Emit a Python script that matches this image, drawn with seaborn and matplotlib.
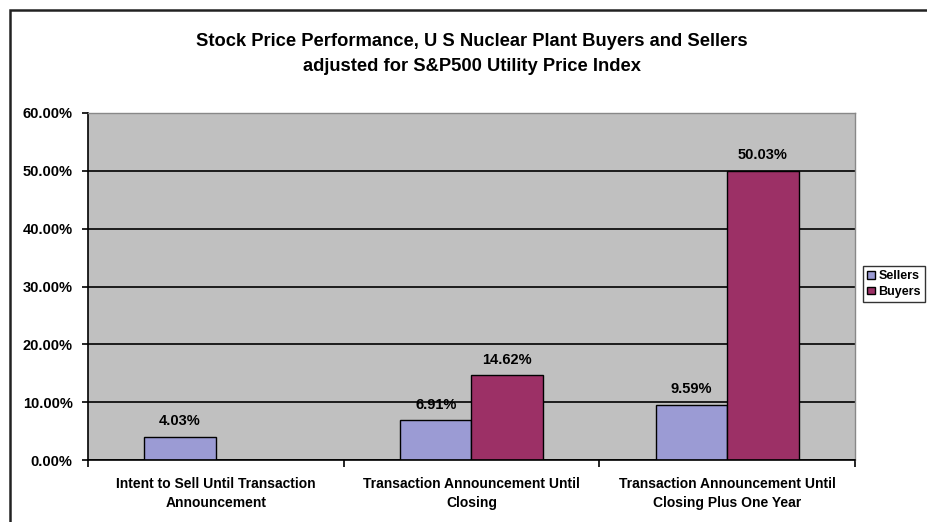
import matplotlib
matplotlib.use("Agg")
import matplotlib.pyplot as plt
import seaborn as sns
import pandas as pd
import numpy as np
from matplotlib.patches import Rectangle
from matplotlib.ticker import FixedLocator, PercentFormatter

categories = [
    "Intent to Sell Until Transaction\nAnnouncement",
    "Transaction Announcement Until\nClosing",
    "Transaction Announcement Until\nClosing Plus One Year",
]
sellers = [4.03, 6.91, 9.59]
buyers = [np.nan, 14.62, 50.03]
series_names = ["Sellers", "Buyers"]
yticks = [0, 10, 20, 30, 40, 50, 60]
title = "Stock Price Performance, U S Nuclear Plant Buyers and Sellers\nadjusted for S&P500 Utility Price Index"

df = pd.DataFrame({
    "category": categories * 2,
    "series": [series_names[0]] * 3 + [series_names[1]] * 3,
    "value": sellers + buyers,
})

sns.set_theme(style="white")
plt.rcParams["font.family"] = ["Liberation Sans", "DejaVu Sans"]
plt.rcParams["text.color"] = "black"
plt.rcParams["xtick.color"] = "black"
plt.rcParams["ytick.color"] = "black"
plt.rcParams["xtick.labelcolor"] = "black"
plt.rcParams["ytick.labelcolor"] = "black"

fig = plt.figure(figsize=(9.28, 5.22), dpi=100)
fig.patches.append(Rectangle((10 / 928, -0.1), 1.0, 1 - 10 / 522 + 0.1,
                             transform=fig.transFigure, fill=False,
                             edgecolor="#222222", linewidth=1.8))
ax = fig.add_axes([88 / 928, 1 - 460 / 522, (855 - 88) / 928, (460 - 113) / 522])
ax.set_facecolor("#c0c0c0")

sns.barplot(data=df, x="category", y="value", hue="series", order=categories,
            hue_order=series_names, palette=["#9b9bd4", "#9c3066"],
            saturation=1, width=0.56, edgecolor="black", linewidth=1.0,
            ax=ax, legend=True)

ax.set_ylim(0, 60)
ax.set_xlim(-0.5, 2.5)
ax.yaxis.set_major_locator(FixedLocator(yticks))
ax.yaxis.set_major_formatter(PercentFormatter(decimals=2))
ax.grid(axis="y", color="black", linewidth=1.2)
ax.set_axisbelow(True)
for s in ["left", "bottom"]:
    ax.spines[s].set_color("black")
    ax.spines[s].set_linewidth(1.2)
for s in ["top", "right"]:
    ax.spines[s].set_color("#888888")
    ax.spines[s].set_linewidth(1.0)
ax.set_xlabel("")
ax.set_ylabel("")
ax.tick_params(axis="y", which="major", length=4, width=1.2, color="black",
               direction="out", left=True, labelsize=10.5, pad=7)
ax.tick_params(axis="x", which="major", length=0, labelsize=10, pad=12)
ax.set_xticks([-0.5, 0.5, 1.5, 2.5], minor=True)
ax.tick_params(axis="x", which="minor", length=5, width=1.2, color="black",
               direction="out", bottom=True)
for lab in ax.get_yticklabels() + ax.get_xticklabels():
    lab.set_fontweight("bold")
for lab in ax.get_xticklabels():
    lab.set_linespacing(1.5)

for cont in ax.containers:
    ax.bar_label(cont, fmt="%.2f%%", padding=6, fontsize=10.5, fontweight="bold")

leg = ax.legend(loc="center left", bbox_to_anchor=(863 / 928, 1 - 284 / 522),
                bbox_transform=fig.transFigure, frameon=True, fancybox=False,
                fontsize=9, handlelength=0.6, handleheight=0.6,
                handletextpad=0.3, borderpad=0.35, labelspacing=0.3,
                borderaxespad=0)
leg.get_frame().set_edgecolor("black")
leg.get_frame().set_linewidth(1.0)
for t in leg.get_texts():
    t.set_fontweight("bold")

fig.text(472 / 928, 1 - 54 / 522, title, ha="center", va="center",
         fontsize=13.2, fontweight="bold", linespacing=1.55)

fig.savefig("out.png", dpi=100, facecolor="white")
